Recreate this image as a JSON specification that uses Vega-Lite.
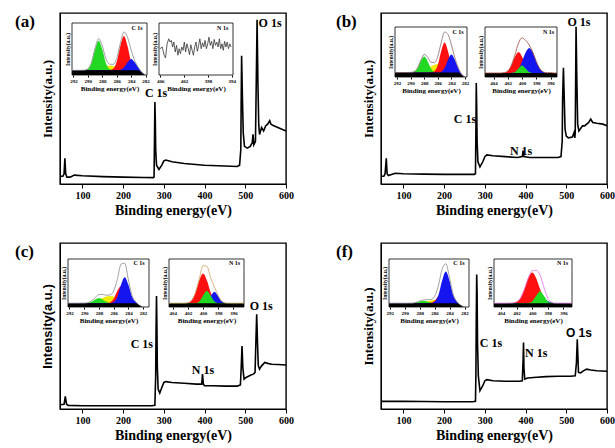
{
  "$schema": "https://vega.github.io/schema/vega-lite/v6.json",
  "padding": {"left": 14, "top": 12, "right": 0, "bottom": 0},
  "background": "white",
  "datasets": {
    "sa": [{"e":45,"v":4.5},{"e":52,"v":4.5},{"e":55,"v":6},{"e":57,"v":15},{"e":59,"v":6},{"e":62,"v":4},{"e":70,"v":4},{"e":80,"v":5.2},{"e":100,"v":4.8},{"e":150,"v":4.3},{"e":200,"v":4},{"e":250,"v":3.8},{"e":274,"v":3.7},{"e":276,"v":4},{"e":277,"v":25},{"e":278,"v":48},{"e":279,"v":38},{"e":280,"v":20},{"e":282,"v":11},{"e":288,"v":8.5},{"e":295,"v":11},{"e":300,"v":13.5},{"e":305,"v":14},{"e":320,"v":13},{"e":350,"v":12},{"e":400,"v":11},{"e":450,"v":10.5},{"e":480,"v":10.2},{"e":486,"v":11},{"e":489,"v":20},{"e":490,"v":50},{"e":491,"v":75},{"e":493,"v":50},{"e":495,"v":30},{"e":498,"v":22},{"e":505,"v":21},{"e":512,"v":22},{"e":517,"v":24},{"e":519,"v":29},{"e":521,"v":23},{"e":525,"v":25},{"e":527,"v":60},{"e":529,"v":96},{"e":531,"v":60},{"e":533,"v":35},{"e":535,"v":29},{"e":540,"v":33},{"e":545,"v":31},{"e":550,"v":34},{"e":555,"v":35},{"e":560,"v":37},{"e":563,"v":35},{"e":570,"v":34},{"e":580,"v":33},{"e":590,"v":32},{"e":600,"v":31}],
    "sb": [{"e":45,"v":4.5},{"e":52,"v":4.5},{"e":55,"v":6},{"e":58,"v":15},{"e":60,"v":6},{"e":63,"v":5},{"e":80,"v":6.3},{"e":100,"v":6},{"e":150,"v":5.8},{"e":200,"v":5.6},{"e":250,"v":5.6},{"e":274,"v":5.6},{"e":277,"v":6},{"e":278,"v":30},{"e":279,"v":59},{"e":280,"v":45},{"e":281,"v":25},{"e":283,"v":13},{"e":288,"v":10},{"e":295,"v":13},{"e":300,"v":16},{"e":305,"v":17},{"e":320,"v":16.5},{"e":350,"v":16},{"e":380,"v":15.5},{"e":392,"v":16},{"e":394,"v":19.5},{"e":396,"v":16},{"e":410,"v":15.5},{"e":450,"v":15.5},{"e":480,"v":15.5},{"e":487,"v":16},{"e":490,"v":25},{"e":491,"v":50},{"e":493,"v":68},{"e":495,"v":50},{"e":497,"v":32},{"e":500,"v":28},{"e":505,"v":27},{"e":515,"v":27.5},{"e":519,"v":30},{"e":521,"v":27},{"e":522,"v":30},{"e":523,"v":60},{"e":524,"v":92},{"e":526,"v":60},{"e":528,"v":35},{"e":531,"v":31},{"e":540,"v":34},{"e":545,"v":34},{"e":555,"v":36},{"e":560,"v":38},{"e":565,"v":36},{"e":575,"v":35.5},{"e":590,"v":35},{"e":600,"v":34}],
    "sc": [{"e":45,"v":2.6},{"e":55,"v":2.8},{"e":58,"v":7.6},{"e":61,"v":3},{"e":65,"v":2.2},{"e":100,"v":2},{"e":200,"v":2},{"e":270,"v":2},{"e":278,"v":2.2},{"e":280,"v":20},{"e":281,"v":50},{"e":282,"v":68},{"e":283,"v":50},{"e":284,"v":25},{"e":286,"v":12},{"e":290,"v":9.6},{"e":295,"v":13},{"e":300,"v":16},{"e":305,"v":16.5},{"e":320,"v":16},{"e":350,"v":15.5},{"e":380,"v":15},{"e":393,"v":15},{"e":395,"v":21},{"e":397,"v":15},{"e":400,"v":14},{"e":420,"v":14},{"e":450,"v":13.8},{"e":480,"v":13.8},{"e":488,"v":14.5},{"e":490,"v":25},{"e":492,"v":38},{"e":494,"v":25},{"e":497,"v":18},{"e":502,"v":19},{"e":515,"v":20.6},{"e":520,"v":21},{"e":524,"v":22},{"e":526,"v":40},{"e":528,"v":57},{"e":530,"v":40},{"e":532,"v":26},{"e":535,"v":24},{"e":540,"v":26},{"e":548,"v":28},{"e":555,"v":27.5},{"e":565,"v":27},{"e":580,"v":26.8},{"e":600,"v":26.5}],
    "sf": [{"e":45,"v":4.6},{"e":100,"v":4.6},{"e":150,"v":4.5},{"e":200,"v":4.4},{"e":270,"v":4.4},{"e":277,"v":4.6},{"e":278,"v":20},{"e":279,"v":55},{"e":280,"v":81},{"e":281,"v":70},{"e":282,"v":40},{"e":284,"v":20},{"e":288,"v":11},{"e":295,"v":14},{"e":300,"v":17},{"e":305,"v":17.7},{"e":320,"v":17},{"e":350,"v":16.7},{"e":385,"v":16.7},{"e":392,"v":17},{"e":394,"v":30},{"e":395,"v":40},{"e":396,"v":25},{"e":398,"v":18},{"e":405,"v":18.7},{"e":420,"v":19},{"e":450,"v":19.5},{"e":480,"v":19.7},{"e":510,"v":19.7},{"e":522,"v":20},{"e":525,"v":28},{"e":527,"v":42},{"e":528,"v":35},{"e":530,"v":22},{"e":535,"v":21.7},{"e":542,"v":23},{"e":550,"v":24},{"e":560,"v":23.5},{"e":575,"v":23},{"e":600,"v":22.7}],
    "ca": [{"e":292.2,"k":9,"y":9,"g":9,"r":9,"b":9,"t":9},{"e":292,"k":9,"y":9,"g":9,"r":9,"b":9,"t":9},{"e":291.5,"k":9,"y":9,"g":9,"r":9,"b":9,"t":9},{"e":291,"k":9,"y":9,"g":9,"r":9,"b":9,"t":9},{"e":290.5,"k":9,"y":9.1,"g":9.2,"r":9,"b":9,"t":9.3},{"e":290,"k":9,"y":9.4,"g":11.5,"r":9,"b":9,"t":11.9},{"e":289.5,"k":9,"y":10,"g":23.3,"r":9,"b":9,"t":24.3},{"e":289,"k":9,"y":11.3,"g":49.5,"r":9,"b":9,"t":51.8},{"e":288.5,"k":9,"y":13.1,"g":66,"r":9,"b":9,"t":70.1},{"e":288,"k":9,"y":15.4,"g":49.5,"r":9,"b":9,"t":55.9},{"e":287.5,"k":9,"y":17.3,"g":23.3,"r":9,"b":9,"t":31.6},{"e":287,"k":9,"y":18,"g":11.5,"r":9.3,"b":9,"t":20.8},{"e":286.5,"k":9,"y":17.3,"g":9.2,"r":11.9,"b":9,"t":20.4},{"e":286,"k":9,"y":15.4,"g":9,"r":25.5,"b":9,"t":31.9},{"e":285.5,"k":9,"y":13.1,"g":9,"r":55.9,"b":10,"t":61},{"e":285,"k":9,"y":11.3,"g":9,"r":75,"b":14.5,"t":82.8},{"e":284.5,"k":9,"y":10,"g":9,"r":55.9,"b":24.6,"t":72.5},{"e":284,"k":9,"y":9.4,"g":9,"r":25.5,"b":31,"t":47.9},{"e":283.5,"k":9,"y":9.1,"g":9,"r":11.9,"b":24.6,"t":27.6},{"e":283,"k":9,"y":9,"g":9,"r":9.3,"b":14.5,"t":14.8},{"e":282.5,"k":4,"y":4,"g":4,"r":4,"b":5,"t":5},{"e":282,"k":0,"y":0,"g":0,"r":0,"b":0.1,"t":0.1}],
    "cb": [{"e":292.3,"k":9,"y":9,"g":9,"r":9,"b":9,"t":9},{"e":292,"k":9,"y":9,"g":9,"r":9,"b":9,"t":9},{"e":291.5,"k":9,"y":9,"g":9,"r":9,"b":9,"t":9},{"e":291,"k":9,"y":9,"g":9,"r":9,"b":9,"t":9},{"e":290.5,"k":9,"y":9,"g":9,"r":9,"b":9,"t":9},{"e":290,"k":9,"y":9.1,"g":9.1,"r":9,"b":9,"t":9.2},{"e":289.5,"k":9,"y":9.2,"g":10.4,"r":9,"b":9,"t":10.6},{"e":289,"k":9,"y":9.8,"g":17,"r":9,"b":9,"t":17.8},{"e":288.5,"k":9,"y":10.9,"g":31.7,"r":9,"b":9,"t":33.6},{"e":288,"k":9,"y":13.3,"g":41,"r":9,"b":9,"t":45.3},{"e":287.5,"k":9,"y":16.8,"g":31.7,"r":9,"b":9,"t":39.5},{"e":287,"k":9,"y":21,"g":17,"r":9.3,"b":9,"t":29.3},{"e":286.5,"k":9,"y":24.6,"g":10.4,"r":11.6,"b":9,"t":28.6},{"e":286,"k":9,"y":26,"g":9.1,"r":24,"b":9.1,"t":41.2},{"e":285.5,"k":9,"y":24.6,"g":9,"r":51.6,"b":10.6,"t":68.8},{"e":285,"k":9,"y":21,"g":9,"r":69,"b":18,"t":90},{"e":284.5,"k":9,"y":16.8,"g":9,"r":51.6,"b":34.6,"t":85},{"e":284,"k":9,"y":13.3,"g":9,"r":24,"b":45,"t":64.3},{"e":283.5,"k":9,"y":10.9,"g":9,"r":11.6,"b":34.6,"t":39.1},{"e":283,"k":9,"y":9.8,"g":9,"r":9.3,"b":18,"t":19.1},{"e":282.5,"k":4,"y":4.2,"g":4,"r":4,"b":5.6,"t":5.8},{"e":282,"k":0,"y":0.1,"g":0,"r":0,"b":0.1,"t":0.2}],
    "cc": [{"e":292.2,"k":8,"y":8,"g":8,"r":8,"b":8,"t":8},{"e":292,"k":8,"y":8,"g":8,"r":8,"b":8,"t":8},{"e":291.5,"k":8,"y":8,"g":8,"r":8,"b":8,"t":8},{"e":291,"k":8,"y":8,"g":8,"r":8,"b":8,"t":8},{"e":290.5,"k":8,"y":8.1,"g":8,"r":8,"b":8,"t":8.1},{"e":290,"k":8,"y":8.2,"g":8,"r":8,"b":8,"t":8.2},{"e":289.5,"k":8,"y":8.7,"g":8.5,"r":8,"b":8,"t":9.2},{"e":289,"k":8,"y":9.7,"g":10.8,"r":8,"b":8,"t":12.5},{"e":288.5,"k":8,"y":11.8,"g":15.8,"r":8,"b":8,"t":19.6},{"e":288,"k":8,"y":14.9,"g":19,"r":8,"b":8,"t":25.9},{"e":287.5,"k":8,"y":18.6,"g":15.8,"r":8,"b":8,"t":26.4},{"e":287,"k":8,"y":21.8,"g":10.8,"r":8,"b":8,"t":24.6},{"e":286.5,"k":8,"y":23,"g":8.5,"r":9.6,"b":8,"t":25.1},{"e":286,"k":8,"y":21.8,"g":8,"r":17,"b":10.4,"t":33.2},{"e":285.5,"k":8,"y":18.6,"g":8,"r":33.6,"b":21.5,"t":57.7},{"e":285,"k":8,"y":14.9,"g":8,"r":44,"b":46.3,"t":89.2},{"e":284.5,"k":8,"y":11.8,"g":8,"r":33.6,"b":62,"t":91.4},{"e":284,"k":8,"y":9.7,"g":8,"r":17,"b":46.3,"t":57},{"e":283.5,"k":8,"y":8.7,"g":8,"r":9.6,"b":21.5,"t":23.8},{"e":283,"k":8,"y":8.2,"g":8,"r":8.1,"b":10.4,"t":10.7},{"e":282.5,"k":3.5,"y":3.6,"g":3.5,"r":3.5,"b":3.7,"t":3.8},{"e":282,"k":0,"y":0,"g":0,"r":0,"b":0,"t":0}],
    "cf": [{"e":292.1,"k":8,"y":8,"g":8,"r":8,"b":8,"t":8},{"e":292,"k":8,"y":8,"g":8,"r":8,"b":8,"t":8},{"e":291.5,"k":8,"y":8,"g":8,"r":8,"b":8,"t":8},{"e":291,"k":8,"y":8,"g":8,"r":8,"b":8,"t":8},{"e":290.5,"k":8,"y":8,"g":8,"r":8,"b":8,"t":8},{"e":290,"k":8,"y":8,"g":8,"r":8,"b":8,"t":8},{"e":289.5,"k":8,"y":8,"g":8,"r":8,"b":8,"t":8},{"e":289,"k":8,"y":8,"g":8.2,"r":8,"b":8,"t":8.2},{"e":288.5,"k":8,"y":8.3,"g":9.3,"r":8,"b":8,"t":9.5},{"e":288,"k":8,"y":8.8,"g":11.6,"r":8,"b":8,"t":12.4},{"e":287.5,"k":8,"y":9.9,"g":13,"r":8,"b":8,"t":14.9},{"e":287,"k":8,"y":11.7,"g":11.6,"r":8,"b":8,"t":15.3},{"e":286.5,"k":8,"y":13.3,"g":9.3,"r":8.9,"b":8,"t":15.5},{"e":286,"k":8,"y":14,"g":8.2,"r":13,"b":10.9,"t":22.1},{"e":285.5,"k":8,"y":13.3,"g":8,"r":22.2,"b":24.5,"t":44},{"e":285,"k":8,"y":11.7,"g":8,"r":28,"b":54.9,"t":78.6},{"e":284.5,"k":8,"y":9.9,"g":8,"r":22.2,"b":74,"t":90.1},{"e":284,"k":8,"y":8.8,"g":8,"r":13,"b":54.9,"t":60.7},{"e":283.5,"k":8,"y":8.3,"g":8,"r":8.9,"b":24.5,"t":25.7},{"e":283,"k":8,"y":8,"g":8,"r":8,"b":10.9,"t":10.9},{"e":282.5,"k":3.5,"y":3.5,"g":3.5,"r":3.5,"b":3.8,"t":3.8},{"e":282,"k":0,"y":0,"g":0,"r":0,"b":0,"t":0}],
    "na": [{"e":406.04,"v":50.6},{"e":405.66,"v":53.8},{"e":405.33,"v":38},{"e":405.11,"v":32.9},{"e":404.84,"v":60},{"e":404.57,"v":69.6},{"e":404.35,"v":63.3},{"e":404.13,"v":66.5},{"e":403.92,"v":53.8},{"e":403.7,"v":63.3},{"e":403.48,"v":44.3},{"e":403.26,"v":57},{"e":403.04,"v":38},{"e":402.83,"v":50.6},{"e":402.61,"v":41},{"e":402.39,"v":53.8},{"e":402.17,"v":47.5},{"e":401.96,"v":63.3},{"e":401.74,"v":44.3},{"e":401.52,"v":60},{"e":401.3,"v":50.6},{"e":401.09,"v":39.2},{"e":400.87,"v":58.2},{"e":400.65,"v":47.5},{"e":400.43,"v":38},{"e":400.22,"v":53.8},{"e":400,"v":63.3},{"e":399.78,"v":45.6},{"e":399.56,"v":57},{"e":399.35,"v":69.6},{"e":399.13,"v":50.6},{"e":398.91,"v":62},{"e":398.69,"v":53.8},{"e":398.48,"v":66.5},{"e":398.26,"v":50.6},{"e":398.04,"v":60},{"e":397.82,"v":72.8},{"e":397.61,"v":57},{"e":397.39,"v":64.6},{"e":397.17,"v":50.6},{"e":396.95,"v":68.4},{"e":396.74,"v":57},{"e":396.52,"v":63.3},{"e":396.3,"v":53.8},{"e":396.08,"v":69.6},{"e":395.87,"v":50.6},{"e":395.65,"v":60},{"e":395.43,"v":47.5},{"e":395.21,"v":64.6},{"e":394.99,"v":53.8},{"e":394.78,"v":63.3},{"e":394.56,"v":50.6},{"e":394.34,"v":60},{"e":394.12,"v":53.8}],
    "nb": [{"e":405.2,"k":8,"r":8,"g":8,"b":8,"t":8},{"e":405,"k":8,"r":8,"g":8,"b":8,"t":8},{"e":404.5,"k":8,"r":8,"g":8,"b":8,"t":8},{"e":404,"k":8,"r":8,"g":8,"b":8,"t":8},{"e":403.5,"k":8,"r":8,"g":8,"b":8,"t":8},{"e":403,"k":8,"r":8,"g":8,"b":8,"t":8},{"e":402.5,"k":8,"r":8.7,"g":8,"b":8,"t":8.7},{"e":402,"k":8,"r":12.2,"g":8,"b":8,"t":12.2},{"e":401.5,"k":8,"r":23.1,"g":8.2,"b":8.4,"t":23.7},{"e":401,"k":8,"r":40.3,"g":10,"b":10.2,"t":44.5},{"e":400.5,"k":8,"r":50,"g":17.2,"b":16.5,"t":67.7},{"e":400,"k":8,"r":40.3,"g":23,"b":31,"t":78.3},{"e":399.5,"k":8,"r":23.1,"g":17.2,"b":49,"t":73.3},{"e":399,"k":8,"r":12.2,"g":10,"b":58,"t":64.2},{"e":398.5,"k":8,"r":8.7,"g":8.2,"b":49,"t":49.9},{"e":398,"k":8,"r":8.1,"g":8,"b":31,"t":31.1},{"e":397.5,"k":8,"r":8,"g":8,"b":16.5,"t":16.5},{"e":397,"k":8,"r":8,"g":8,"b":10.2,"t":10.2},{"e":396.5,"k":8,"r":8,"g":8,"b":8.4,"t":8.4},{"e":396,"k":8,"r":8,"g":8,"b":8,"t":9},{"e":395.5,"k":8,"r":8,"g":8,"b":8,"t":8},{"e":395.1,"k":8,"r":8,"g":8,"b":8,"t":8}],
    "nc": [{"e":404.5,"k":8,"r":8,"g":8,"b":8,"t":8},{"e":404,"k":8,"r":8,"g":8,"b":8,"t":8},{"e":403.5,"k":8,"r":8,"g":8,"b":8,"t":8},{"e":403,"k":8,"r":8,"g":8,"b":8,"t":8},{"e":402.5,"k":8,"r":8.1,"g":8,"b":8,"t":8.1},{"e":402,"k":8,"r":9,"g":8,"b":8,"t":9},{"e":401.5,"k":8,"r":14.2,"g":8,"b":8,"t":14.2},{"e":401,"k":8,"r":30.3,"g":8.3,"b":8,"t":30.6},{"e":400.5,"k":8,"r":55.7,"g":11.5,"b":8,"t":59.2},{"e":400,"k":8,"r":70,"g":23.9,"b":8.3,"t":86.2},{"e":399.5,"k":8,"r":55.7,"g":34,"b":11.2,"t":84.9},{"e":399,"k":8,"r":30.3,"g":23.9,"b":22.6,"t":60.8},{"e":398.5,"k":8,"r":14.2,"g":11.5,"b":32,"t":41.7},{"e":398,"k":8,"r":9,"g":8.3,"b":22.6,"t":24},{"e":397.5,"k":8,"r":8.1,"g":8,"b":11.2,"t":11.3},{"e":397,"k":8,"r":8,"g":8,"b":8.3,"t":8.3},{"e":396.5,"k":8,"r":8,"g":8,"b":8,"t":8},{"e":396,"k":8,"r":8,"g":8,"b":8,"t":8},{"e":395.5,"k":8,"r":8,"g":8,"b":8,"t":8},{"e":395,"k":8,"r":8,"g":8,"b":8,"t":8},{"e":394.6,"k":8,"r":8,"g":8,"b":8,"t":8}],
    "nf": [{"e":404.9,"k":8,"r":8,"g":8,"b":8,"t":8},{"e":404.5,"k":8,"r":8,"g":8,"b":8,"t":8},{"e":404,"k":8,"r":8,"g":8,"b":8,"t":8},{"e":403.5,"k":8,"r":8,"g":8,"b":8,"t":8},{"e":403,"k":8,"r":8.1,"g":8,"b":8,"t":8.1},{"e":402.5,"k":8,"r":8.5,"g":8,"b":8,"t":8.5},{"e":402,"k":8,"r":10.8,"g":8,"b":8,"t":10.8},{"e":401.5,"k":8,"r":18.9,"g":8,"b":8,"t":18.9},{"e":401,"k":8,"r":37.4,"g":8,"b":8,"t":37.4},{"e":400.5,"k":8,"r":60.5,"g":8.3,"b":8,"t":60.8},{"e":400,"k":8,"r":72,"g":11.4,"b":8,"t":75.4},{"e":399.5,"k":8,"r":60.5,"g":23.2,"b":8.9,"t":76.6},{"e":399,"k":8,"r":37.4,"g":33,"b":12.3,"t":66.7},{"e":398.5,"k":8,"r":18.9,"g":23.2,"b":15,"t":41.1},{"e":398,"k":8,"r":10.8,"g":11.4,"b":12.3,"t":18.5},{"e":397.5,"k":8,"r":8.5,"g":8.3,"b":8.9,"t":9.7},{"e":397,"k":8,"r":8,"g":8,"b":8.1,"t":8.1},{"e":396.5,"k":8,"r":8,"g":8,"b":8,"t":8},{"e":396,"k":8,"r":8,"g":8,"b":8,"t":8},{"e":395.5,"k":8,"r":8,"g":8,"b":8,"t":8},{"e":394.9,"k":8,"r":8,"g":8,"b":8,"t":8}]
  },
  "columns": 2,
  "spacing": {"row": 24, "column": 40},
  "concat": [
    {
      "title": {"text": "(a)"},
      "width": 226, "height": 171,
      "resolve": {"scale": {"x": "independent", "y": "independent"}, "axis": {"x": "independent", "y": "independent"}},
      "layer": [
        {
          "layer": [
            {"data": {"name": "sa"}, "mark": {"type": "line", "color": "black", "strokeWidth": 1.6},
             "encoding": {
               "x": {"field": "e", "type": "quantitative", "scale": {"domain": [45, 600], "nice": false, "zero": false},
                     "axis": {"orient": "bottom", "values": [100,150,200,250,300,350,400,450,500,550,600], "labelExpr": "datum.value % 100 === 0 ? datum.label : ''", "title": "Binding energy(eV)", "titleFontSize": 14, "labelFontSize": 10, "tickSize": 4, "labelFlush": false, "labelPadding": 2, "titlePadding": 3, "titleColor": "black", "labelColor": "black"}},
               "y": {"field": "v", "type": "quantitative", "scale": {"domain": [0, 100], "nice": false},
                     "axis": {"orient": "left", "title": "Intensity(a.u.)", "titleFontSize": 13, "labels": false, "ticks": false, "titlePadding": 6, "titleColor": "black"}}}},
            {"data": {"values": [{"e": 281, "v": 53, "s": "C 1s"}, {"e": 561, "v": 94, "s": "O 1s"}]},
             "mark": {"type": "text", "fontSize": 12, "fontWeight": "bold", "font": "Liberation Serif", "baseline": "middle", "color": "black"},
             "encoding": {"x": {"field": "e", "type": "quantitative"}, "y": {"field": "v", "type": "quantitative"}, "text": {"field": "s"}}}
          ]
        },
        {
          "data": {"name": "ca"},
          "layer": [
            {"data": {"values": [{"x1": 292.2, "x2": 281.8, "y1": 0, "y2": 100}]},
             "mark": {"type": "rect", "fill": "white", "stroke": "black", "strokeWidth": 0.8},
             "encoding": {
               "x": {"field": "x1", "type": "quantitative", "scale": {"domain": [292.2, 281.8], "range": [12, 87], "nice": false, "zero": false},
                     "axis": {"orient": "bottom", "offset": -109, "values": [292,290,288,286,284,282], "title": "Binding energy(eV)", "titleFontSize": 7, "titlePadding": 1, "labelFontSize": 5, "labelPadding": 1, "tickSize": 2, "domain": false, "labelOverlap": false, "labelFlush": false, "titleColor": "black", "labelColor": "black"}},
               "x2": {"field": "x2"},
               "y": {"field": "y1", "type": "quantitative", "scale": {"domain": [0, 100], "range": [62, 10], "nice": false},
                     "axis": {"orient": "left", "offset": -12, "title": "Intensity(a.u.)", "titleFontSize": 5.5, "titlePadding": 2, "labels": false, "ticks": false, "domain": false, "titleColor": "black"}},
               "y2": {"field": "y2"}}},
            {"mark": {"type": "area", "color": "#f2ea00", "interpolate": "monotone"}, "encoding": {"x": {"field": "e", "type": "quantitative"}, "y": {"field": "y", "type": "quantitative", "stack": null}}},
            {"mark": {"type": "area", "color": "#22d822", "interpolate": "monotone"}, "encoding": {"x": {"field": "e", "type": "quantitative"}, "y": {"field": "g", "type": "quantitative", "stack": null}}},
            {"mark": {"type": "area", "color": "#ff1010", "interpolate": "monotone"}, "encoding": {"x": {"field": "e", "type": "quantitative"}, "y": {"field": "r", "type": "quantitative", "stack": null}}},
            {"mark": {"type": "area", "color": "#1515f0", "interpolate": "monotone"}, "encoding": {"x": {"field": "e", "type": "quantitative"}, "y": {"field": "b", "type": "quantitative", "stack": null}}},
            {"mark": {"type": "area", "color": "black", "interpolate": "monotone"}, "encoding": {"x": {"field": "e", "type": "quantitative"}, "y": {"field": "k", "type": "quantitative", "stack": null}}},
            {"mark": {"type": "line", "color": "#8a8a8a", "strokeWidth": 0.8, "interpolate": "monotone"}, "encoding": {"x": {"field": "e", "type": "quantitative"}, "y": {"field": "t", "type": "quantitative"}}},
            {"data": {"values": [{"e": 282.4, "v": 91, "s": "C 1s"}]},
             "mark": {"type": "text", "align": "right", "baseline": "middle", "fontSize": 6, "fontWeight": "bold", "font": "Liberation Serif", "color": "black"},
             "encoding": {"x": {"field": "e", "type": "quantitative"}, "y": {"field": "v", "type": "quantitative"}, "text": {"field": "s"}}}
          ]
        },
        {
          "data": {"name": "na"},
          "layer": [
            {"data": {"values": [{"x1": 406.2, "x2": 393.8, "y1": 0, "y2": 100}]},
             "mark": {"type": "rect", "fill": "white", "stroke": "black", "strokeWidth": 0.8},
             "encoding": {
               "x": {"field": "x1", "type": "quantitative", "scale": {"domain": [406.2, 393.8], "range": [99, 173], "nice": false, "zero": false},
                     "axis": {"orient": "bottom", "offset": -109, "values": [406,404,402,400,398,396,394], "title": "Binding energy(eV)", "titleFontSize": 7, "titlePadding": 1, "labelFontSize": 5, "labelPadding": 1, "tickSize": 2, "domain": false, "labelOverlap": false, "labelFlush": false, "titleColor": "black", "labelColor": "black"}},
               "x2": {"field": "x2"},
               "y": {"field": "y1", "type": "quantitative", "scale": {"domain": [0, 100], "range": [62, 10], "nice": false},
                     "axis": {"orient": "left", "offset": -99, "title": "Intensity(a.u.)", "titleFontSize": 5.5, "titlePadding": 2, "labels": false, "ticks": false, "domain": false, "titleColor": "black"}},
               "y2": {"field": "y2"}}},
            {"mark": {"type": "line", "color": "#333333", "strokeWidth": 0.8}, "encoding": {"x": {"field": "e", "type": "quantitative"}, "y": {"field": "v", "type": "quantitative"}}},
            {"data": {"values": [{"e": 394.6, "v": 91, "s": "N 1s"}]},
             "mark": {"type": "text", "align": "right", "baseline": "middle", "fontSize": 6, "fontWeight": "bold", "font": "Liberation Serif", "color": "black"},
             "encoding": {"x": {"field": "e", "type": "quantitative"}, "y": {"field": "v", "type": "quantitative"}, "text": {"field": "s"}}}
          ]
        }
      ]
    },
    {
      "title": {"text": "(b)"},
      "width": 226, "height": 171,
      "resolve": {"scale": {"x": "independent", "y": "independent"}, "axis": {"x": "independent", "y": "independent"}},
      "layer": [
        {
          "layer": [
            {"data": {"name": "sb"}, "mark": {"type": "line", "color": "black", "strokeWidth": 1.6},
             "encoding": {
               "x": {"field": "e", "type": "quantitative", "scale": {"domain": [45, 600], "nice": false, "zero": false},
                     "axis": {"orient": "bottom", "values": [100,150,200,250,300,350,400,450,500,550,600], "labelExpr": "datum.value % 100 === 0 ? datum.label : ''", "title": "Binding energy(eV)", "titleFontSize": 14, "labelFontSize": 10, "tickSize": 4, "labelFlush": false, "labelPadding": 2, "titlePadding": 3, "titleColor": "black", "labelColor": "black"}},
               "y": {"field": "v", "type": "quantitative", "scale": {"domain": [0, 100], "nice": false},
                     "axis": {"orient": "left", "title": "Intensity(a.u.)", "titleFontSize": 13, "labels": false, "ticks": false, "titlePadding": 6, "titleColor": "black"}}}},
            {"data": {"values": [{"e": 251, "v": 38, "s": "C 1s"}, {"e": 389, "v": 19.5, "s": "N 1s"}, {"e": 531, "v": 94.5, "s": "O 1s"}]},
             "mark": {"type": "text", "fontSize": 12, "fontWeight": "bold", "font": "Liberation Serif", "baseline": "middle", "color": "black"},
             "encoding": {"x": {"field": "e", "type": "quantitative"}, "y": {"field": "v", "type": "quantitative"}, "text": {"field": "s"}}}
          ]
        },
        {
          "data": {"name": "cb"},
          "layer": [
            {"data": {"values": [{"x1": 292.3, "x2": 281.7, "y1": 0, "y2": 100}]},
             "mark": {"type": "rect", "fill": "white", "stroke": "black", "strokeWidth": 0.8},
             "encoding": {
               "x": {"field": "x1", "type": "quantitative", "scale": {"domain": [292.3, 281.7], "range": [14, 86], "nice": false, "zero": false},
                     "axis": {"orient": "bottom", "offset": -107, "values": [292,290,288,286,284,282], "title": "Binding energy(eV)", "titleFontSize": 7, "titlePadding": 1, "labelFontSize": 5, "labelPadding": 1, "tickSize": 2, "domain": false, "labelOverlap": false, "labelFlush": false, "titleColor": "black", "labelColor": "black"}},
               "x2": {"field": "x2"},
               "y": {"field": "y1", "type": "quantitative", "scale": {"domain": [0, 100], "range": [64, 14], "nice": false},
                     "axis": {"orient": "left", "offset": -14, "title": "Intensity(a.u.)", "titleFontSize": 5.5, "titlePadding": 2, "labels": false, "ticks": false, "domain": false, "titleColor": "black"}},
               "y2": {"field": "y2"}}},
            {"mark": {"type": "area", "color": "#f2ea00", "interpolate": "monotone"}, "encoding": {"x": {"field": "e", "type": "quantitative"}, "y": {"field": "y", "type": "quantitative", "stack": null}}},
            {"mark": {"type": "area", "color": "#22d822", "interpolate": "monotone"}, "encoding": {"x": {"field": "e", "type": "quantitative"}, "y": {"field": "g", "type": "quantitative", "stack": null}}},
            {"mark": {"type": "area", "color": "#ff1010", "interpolate": "monotone"}, "encoding": {"x": {"field": "e", "type": "quantitative"}, "y": {"field": "r", "type": "quantitative", "stack": null}}},
            {"mark": {"type": "area", "color": "#1515f0", "interpolate": "monotone"}, "encoding": {"x": {"field": "e", "type": "quantitative"}, "y": {"field": "b", "type": "quantitative", "stack": null}}},
            {"mark": {"type": "area", "color": "black", "interpolate": "monotone"}, "encoding": {"x": {"field": "e", "type": "quantitative"}, "y": {"field": "k", "type": "quantitative", "stack": null}}},
            {"mark": {"type": "line", "color": "#8a6a6a", "strokeWidth": 0.8, "interpolate": "monotone"}, "encoding": {"x": {"field": "e", "type": "quantitative"}, "y": {"field": "t", "type": "quantitative"}}},
            {"data": {"values": [{"e": 282.2, "v": 91, "s": "C 1s"}]},
             "mark": {"type": "text", "align": "right", "baseline": "middle", "fontSize": 6, "fontWeight": "bold", "font": "Liberation Serif", "color": "black"},
             "encoding": {"x": {"field": "e", "type": "quantitative"}, "y": {"field": "v", "type": "quantitative"}, "text": {"field": "s"}}}
          ]
        },
        {
          "data": {"name": "nb"},
          "layer": [
            {"data": {"values": [{"x1": 405.2, "x2": 395.1, "y1": 0, "y2": 100}]},
             "mark": {"type": "rect", "fill": "white", "stroke": "black", "strokeWidth": 0.8},
             "encoding": {
               "x": {"field": "x1", "type": "quantitative", "scale": {"domain": [405.2, 395.1], "range": [104, 176], "nice": false, "zero": false},
                     "axis": {"orient": "bottom", "offset": -107, "values": [404,402,400,398,396], "title": "Binding energy(eV)", "titleFontSize": 7, "titlePadding": 1, "labelFontSize": 5, "labelPadding": 1, "tickSize": 2, "domain": false, "labelOverlap": false, "labelFlush": false, "titleColor": "black", "labelColor": "black"}},
               "x2": {"field": "x2"},
               "y": {"field": "y1", "type": "quantitative", "scale": {"domain": [0, 100], "range": [64, 14], "nice": false},
                     "axis": {"orient": "left", "offset": -104, "title": "Intensity(a.u.)", "titleFontSize": 5.5, "titlePadding": 2, "labels": false, "ticks": false, "domain": false, "titleColor": "black"}},
               "y2": {"field": "y2"}}},
            {"mark": {"type": "area", "color": "#ff1010", "interpolate": "monotone"}, "encoding": {"x": {"field": "e", "type": "quantitative"}, "y": {"field": "r", "type": "quantitative", "stack": null}}},
            {"mark": {"type": "area", "color": "#1515f0", "interpolate": "monotone"}, "encoding": {"x": {"field": "e", "type": "quantitative"}, "y": {"field": "b", "type": "quantitative", "stack": null}}},
            {"mark": {"type": "area", "color": "#22d822", "interpolate": "monotone"}, "encoding": {"x": {"field": "e", "type": "quantitative"}, "y": {"field": "g", "type": "quantitative", "stack": null}}},
            {"mark": {"type": "area", "color": "black", "interpolate": "monotone"}, "encoding": {"x": {"field": "e", "type": "quantitative"}, "y": {"field": "k", "type": "quantitative", "stack": null}}},
            {"mark": {"type": "line", "color": "#a04838", "strokeWidth": 0.8, "interpolate": "monotone"}, "encoding": {"x": {"field": "e", "type": "quantitative"}, "y": {"field": "t", "type": "quantitative"}}},
            {"data": {"values": [{"e": 395.5, "v": 91, "s": "N 1s"}]},
             "mark": {"type": "text", "align": "right", "baseline": "middle", "fontSize": 6, "fontWeight": "bold", "font": "Liberation Serif", "color": "black"},
             "encoding": {"x": {"field": "e", "type": "quantitative"}, "y": {"field": "v", "type": "quantitative"}, "text": {"field": "s"}}}
          ]
        }
      ]
    },
    {
      "title": {"text": "(c)"},
      "width": 226, "height": 166,
      "resolve": {"scale": {"x": "independent", "y": "independent"}, "axis": {"x": "independent", "y": "independent"}},
      "layer": [
        {
          "layer": [
            {"data": {"name": "sc"}, "mark": {"type": "line", "color": "black", "strokeWidth": 1.6},
             "encoding": {
               "x": {"field": "e", "type": "quantitative", "scale": {"domain": [45, 600], "nice": false, "zero": false},
                     "axis": {"orient": "bottom", "values": [100,150,200,250,300,350,400,450,500,550,600], "labelExpr": "datum.value % 100 === 0 ? datum.label : ''", "title": "Binding energy(eV)", "titleFontSize": 14, "labelFontSize": 10, "tickSize": 4, "labelFlush": false, "labelPadding": 2, "titlePadding": 3, "titleColor": "black", "labelColor": "black"}},
               "y": {"field": "v", "type": "quantitative", "scale": {"domain": [0, 100], "nice": false},
                     "axis": {"orient": "left", "title": "Intensity(a.u.)", "titleFont": "Liberation Sans", "titleFontSize": 13, "labels": false, "ticks": false, "titlePadding": 6, "titleColor": "black"}}}},
            {"data": {"values": [{"e": 246, "v": 39, "s": "C 1s"}, {"e": 396, "v": 23.5, "s": "N 1s"}, {"e": 539, "v": 62, "s": "O 1s"}]},
             "mark": {"type": "text", "fontSize": 12, "fontWeight": "bold", "font": "Liberation Serif", "baseline": "middle", "color": "black"},
             "encoding": {"x": {"field": "e", "type": "quantitative"}, "y": {"field": "v", "type": "quantitative"}, "text": {"field": "s"}}}
          ]
        },
        {
          "data": {"name": "cc"},
          "layer": [
            {"data": {"values": [{"x1": 292.2, "x2": 281.2, "y1": 0, "y2": 100}]},
             "mark": {"type": "rect", "fill": "white", "stroke": "black", "strokeWidth": 0.8},
             "encoding": {
               "x": {"field": "x1", "type": "quantitative", "scale": {"domain": [292.2, 281.2], "range": [8, 89], "nice": false, "zero": false},
                     "axis": {"orient": "bottom", "offset": -102, "values": [292,290,288,286,284,282], "title": "Binding energy(eV)", "titleFontSize": 7, "titlePadding": 1, "labelFontSize": 5, "labelPadding": 1, "tickSize": 2, "domain": false, "labelOverlap": false, "labelFlush": false, "titleColor": "black", "labelColor": "black"}},
               "x2": {"field": "x2"},
               "y": {"field": "y1", "type": "quantitative", "scale": {"domain": [0, 100], "range": [64, 16], "nice": false},
                     "axis": {"orient": "left", "offset": -8, "title": "Intensity(a.u.)", "titleFontSize": 5.5, "titlePadding": 2, "labels": false, "ticks": false, "domain": false, "titleColor": "black"}},
               "y2": {"field": "y2"}}},
            {"mark": {"type": "area", "color": "#f2ea00", "interpolate": "monotone"}, "encoding": {"x": {"field": "e", "type": "quantitative"}, "y": {"field": "y", "type": "quantitative", "stack": null}}},
            {"mark": {"type": "area", "color": "#22d822", "interpolate": "monotone"}, "encoding": {"x": {"field": "e", "type": "quantitative"}, "y": {"field": "g", "type": "quantitative", "stack": null}}},
            {"mark": {"type": "area", "color": "#ff1010", "interpolate": "monotone"}, "encoding": {"x": {"field": "e", "type": "quantitative"}, "y": {"field": "r", "type": "quantitative", "stack": null}}},
            {"mark": {"type": "area", "color": "#1515f0", "interpolate": "monotone"}, "encoding": {"x": {"field": "e", "type": "quantitative"}, "y": {"field": "b", "type": "quantitative", "stack": null}}},
            {"mark": {"type": "area", "color": "black", "interpolate": "monotone"}, "encoding": {"x": {"field": "e", "type": "quantitative"}, "y": {"field": "k", "type": "quantitative", "stack": null}}},
            {"mark": {"type": "line", "color": "#8a8a8a", "strokeWidth": 0.8, "interpolate": "monotone"}, "encoding": {"x": {"field": "e", "type": "quantitative"}, "y": {"field": "t", "type": "quantitative"}}},
            {"data": {"values": [{"e": 281.8, "v": 91, "s": "C 1s"}]},
             "mark": {"type": "text", "align": "right", "baseline": "middle", "fontSize": 6, "fontWeight": "bold", "font": "Liberation Serif", "color": "black"},
             "encoding": {"x": {"field": "e", "type": "quantitative"}, "y": {"field": "v", "type": "quantitative"}, "text": {"field": "s"}}}
          ]
        },
        {
          "data": {"name": "nc"},
          "layer": [
            {"data": {"values": [{"x1": 404.5, "x2": 394.6, "y1": 0, "y2": 100}]},
             "mark": {"type": "rect", "fill": "white", "stroke": "black", "strokeWidth": 0.8},
             "encoding": {
               "x": {"field": "x1", "type": "quantitative", "scale": {"domain": [404.5, 394.6], "range": [109, 184], "nice": false, "zero": false},
                     "axis": {"orient": "bottom", "offset": -102, "values": [404,402,400,398,396], "title": "Binding energy(eV)", "titleFontSize": 7, "titlePadding": 1, "labelFontSize": 5, "labelPadding": 1, "tickSize": 2, "domain": false, "labelOverlap": false, "labelFlush": false, "titleColor": "black", "labelColor": "black"}},
               "x2": {"field": "x2"},
               "y": {"field": "y1", "type": "quantitative", "scale": {"domain": [0, 100], "range": [64, 16], "nice": false},
                     "axis": {"orient": "left", "offset": -109, "title": "Intensity(a.u.)", "titleFontSize": 5.5, "titlePadding": 2, "labels": false, "ticks": false, "domain": false, "titleColor": "black"}},
               "y2": {"field": "y2"}}},
            {"mark": {"type": "area", "color": "#ff1010", "interpolate": "monotone"}, "encoding": {"x": {"field": "e", "type": "quantitative"}, "y": {"field": "r", "type": "quantitative", "stack": null}}},
            {"mark": {"type": "area", "color": "#1515f0", "interpolate": "monotone"}, "encoding": {"x": {"field": "e", "type": "quantitative"}, "y": {"field": "b", "type": "quantitative", "stack": null}}},
            {"mark": {"type": "area", "color": "#22d822", "interpolate": "monotone"}, "encoding": {"x": {"field": "e", "type": "quantitative"}, "y": {"field": "g", "type": "quantitative", "stack": null}}},
            {"mark": {"type": "area", "color": "black", "interpolate": "monotone"}, "encoding": {"x": {"field": "e", "type": "quantitative"}, "y": {"field": "k", "type": "quantitative", "stack": null}}},
            {"mark": {"type": "line", "color": "#c8a060", "strokeWidth": 0.8, "interpolate": "monotone"}, "encoding": {"x": {"field": "e", "type": "quantitative"}, "y": {"field": "t", "type": "quantitative"}}},
            {"data": {"values": [{"e": 395.1, "v": 91, "s": "N 1s"}]},
             "mark": {"type": "text", "align": "right", "baseline": "middle", "fontSize": 6, "fontWeight": "bold", "font": "Liberation Serif", "color": "black"},
             "encoding": {"x": {"field": "e", "type": "quantitative"}, "y": {"field": "v", "type": "quantitative"}, "text": {"field": "s"}}}
          ]
        }
      ]
    },
    {
      "title": {"text": "(f)"},
      "width": 226, "height": 166,
      "resolve": {"scale": {"x": "independent", "y": "independent"}, "axis": {"x": "independent", "y": "independent"}},
      "layer": [
        {
          "layer": [
            {"data": {"name": "sf"}, "mark": {"type": "line", "color": "black", "strokeWidth": 1.6},
             "encoding": {
               "x": {"field": "e", "type": "quantitative", "scale": {"domain": [45, 600], "nice": false, "zero": false},
                     "axis": {"orient": "bottom", "values": [100,150,200,250,300,350,400,450,500,550,600], "labelExpr": "datum.value % 100 === 0 ? datum.label : ''", "title": "Binding energy(eV)", "titleFontSize": 14, "labelFontSize": 10, "tickSize": 4, "labelFlush": false, "labelPadding": 2, "titlePadding": 3, "titleColor": "black", "labelColor": "black"}},
               "y": {"field": "v", "type": "quantitative", "scale": {"domain": [0, 100], "nice": false},
                     "axis": {"orient": "left", "title": "Intensity(a.u.)", "titleFontSize": 13, "labels": false, "ticks": false, "titlePadding": 6, "titleColor": "black"}}}},
            {"data": {"values": [{"e": 315, "v": 40, "s": "C 1s"}, {"e": 426, "v": 33.7, "s": "N 1s"}]},
             "mark": {"type": "text", "fontSize": 12, "fontWeight": "bold", "font": "Liberation Serif", "baseline": "middle", "color": "black"},
             "encoding": {"x": {"field": "e", "type": "quantitative"}, "y": {"field": "v", "type": "quantitative"}, "text": {"field": "s"}}},
            {"data": {"values": [{"e": 531, "v": 46, "s": "O 1s"}]},
             "mark": {"type": "text", "fontSize": 12, "fontWeight": "bold", "font": "Liberation Sans", "baseline": "middle", "color": "black"},
             "encoding": {"x": {"field": "e", "type": "quantitative"}, "y": {"field": "v", "type": "quantitative"}, "text": {"field": "s"}}}
          ]
        },
        {
          "data": {"name": "cf"},
          "layer": [
            {"data": {"values": [{"x1": 292.1, "x2": 281.4, "y1": 0, "y2": 100}]},
             "mark": {"type": "rect", "fill": "white", "stroke": "black", "strokeWidth": 0.8},
             "encoding": {
               "x": {"field": "x1", "type": "quantitative", "scale": {"domain": [292.1, 281.4], "range": [8, 88], "nice": false, "zero": false},
                     "axis": {"orient": "bottom", "offset": -102, "values": [292,290,288,286,284,282], "title": "Binding energy(eV)", "titleFontSize": 7, "titlePadding": 1, "labelFontSize": 5, "labelPadding": 1, "tickSize": 2, "domain": false, "labelOverlap": false, "labelFlush": false, "titleColor": "black", "labelColor": "black"}},
               "x2": {"field": "x2"},
               "y": {"field": "y1", "type": "quantitative", "scale": {"domain": [0, 100], "range": [64, 16], "nice": false},
                     "axis": {"orient": "left", "offset": -8, "title": "Intensity(a.u.)", "titleFontSize": 5.5, "titlePadding": 2, "labels": false, "ticks": false, "domain": false, "titleColor": "black"}},
               "y2": {"field": "y2"}}},
            {"mark": {"type": "area", "color": "#f2ea00", "interpolate": "monotone"}, "encoding": {"x": {"field": "e", "type": "quantitative"}, "y": {"field": "y", "type": "quantitative", "stack": null}}},
            {"mark": {"type": "area", "color": "#22d822", "interpolate": "monotone"}, "encoding": {"x": {"field": "e", "type": "quantitative"}, "y": {"field": "g", "type": "quantitative", "stack": null}}},
            {"mark": {"type": "area", "color": "#ff1010", "interpolate": "monotone"}, "encoding": {"x": {"field": "e", "type": "quantitative"}, "y": {"field": "r", "type": "quantitative", "stack": null}}},
            {"mark": {"type": "area", "color": "#1515f0", "interpolate": "monotone"}, "encoding": {"x": {"field": "e", "type": "quantitative"}, "y": {"field": "b", "type": "quantitative", "stack": null}}},
            {"mark": {"type": "area", "color": "black", "interpolate": "monotone"}, "encoding": {"x": {"field": "e", "type": "quantitative"}, "y": {"field": "k", "type": "quantitative", "stack": null}}},
            {"mark": {"type": "line", "color": "#8a8a8a", "strokeWidth": 0.8, "interpolate": "monotone"}, "encoding": {"x": {"field": "e", "type": "quantitative"}, "y": {"field": "t", "type": "quantitative"}}},
            {"data": {"values": [{"e": 282, "v": 91, "s": "C 1s"}]},
             "mark": {"type": "text", "align": "right", "baseline": "middle", "fontSize": 6, "fontWeight": "bold", "font": "Liberation Serif", "color": "black"},
             "encoding": {"x": {"field": "e", "type": "quantitative"}, "y": {"field": "v", "type": "quantitative"}, "text": {"field": "s"}}}
          ]
        },
        {
          "data": {"name": "nf"},
          "layer": [
            {"data": {"values": [{"x1": 404.9, "x2": 394.9, "y1": 0, "y2": 100}]},
             "mark": {"type": "rect", "fill": "white", "stroke": "black", "strokeWidth": 0.8},
             "encoding": {
               "x": {"field": "x1", "type": "quantitative", "scale": {"domain": [404.9, 394.9], "range": [113, 191], "nice": false, "zero": false},
                     "axis": {"orient": "bottom", "offset": -102, "values": [404,402,400,398,396], "title": "Binding energy(eV)", "titleFontSize": 7, "titlePadding": 1, "labelFontSize": 5, "labelPadding": 1, "tickSize": 2, "domain": false, "labelOverlap": false, "labelFlush": false, "titleColor": "black", "labelColor": "black"}},
               "x2": {"field": "x2"},
               "y": {"field": "y1", "type": "quantitative", "scale": {"domain": [0, 100], "range": [64, 16], "nice": false},
                     "axis": {"orient": "left", "offset": -113, "title": "Intensity(a.u.)", "titleFontSize": 5.5, "titlePadding": 2, "labels": false, "ticks": false, "domain": false, "titleColor": "black"}},
               "y2": {"field": "y2"}}},
            {"mark": {"type": "area", "color": "#ff1010", "interpolate": "monotone"}, "encoding": {"x": {"field": "e", "type": "quantitative"}, "y": {"field": "r", "type": "quantitative", "stack": null}}},
            {"mark": {"type": "area", "color": "#1515f0", "interpolate": "monotone"}, "encoding": {"x": {"field": "e", "type": "quantitative"}, "y": {"field": "b", "type": "quantitative", "stack": null}}},
            {"mark": {"type": "area", "color": "#22d822", "interpolate": "monotone"}, "encoding": {"x": {"field": "e", "type": "quantitative"}, "y": {"field": "g", "type": "quantitative", "stack": null}}},
            {"mark": {"type": "area", "color": "black", "interpolate": "monotone"}, "encoding": {"x": {"field": "e", "type": "quantitative"}, "y": {"field": "k", "type": "quantitative", "stack": null}}},
            {"mark": {"type": "line", "color": "#e070e0", "strokeWidth": 0.8, "interpolate": "monotone"}, "encoding": {"x": {"field": "e", "type": "quantitative"}, "y": {"field": "t", "type": "quantitative"}}},
            {"data": {"values": [{"e": 395.4, "v": 91, "s": "N 1s"}]},
             "mark": {"type": "text", "align": "right", "baseline": "middle", "fontSize": 6, "fontWeight": "bold", "font": "Liberation Serif", "color": "black"},
             "encoding": {"x": {"field": "e", "type": "quantitative"}, "y": {"field": "v", "type": "quantitative"}, "text": {"field": "s"}}}
          ]
        }
      ]
    }
  ],
  "config": {
    "font": "Liberation Serif",
    "view": {"stroke": "black", "strokeWidth": 1.4},
    "title": {"anchor": "start", "frame": "bounds", "fontSize": 17, "font": "Liberation Serif", "fontWeight": "bold", "color": "black", "dx": -26, "dy": 22, "offset": 0},
    "axis": {"grid": false, "labelFont": "Liberation Serif", "titleFont": "Liberation Serif", "labelFontWeight": "bold", "titleFontWeight": "bold", "labelColor": "black", "titleColor": "black", "domainColor": "black", "tickColor": "black"}
  }
}
